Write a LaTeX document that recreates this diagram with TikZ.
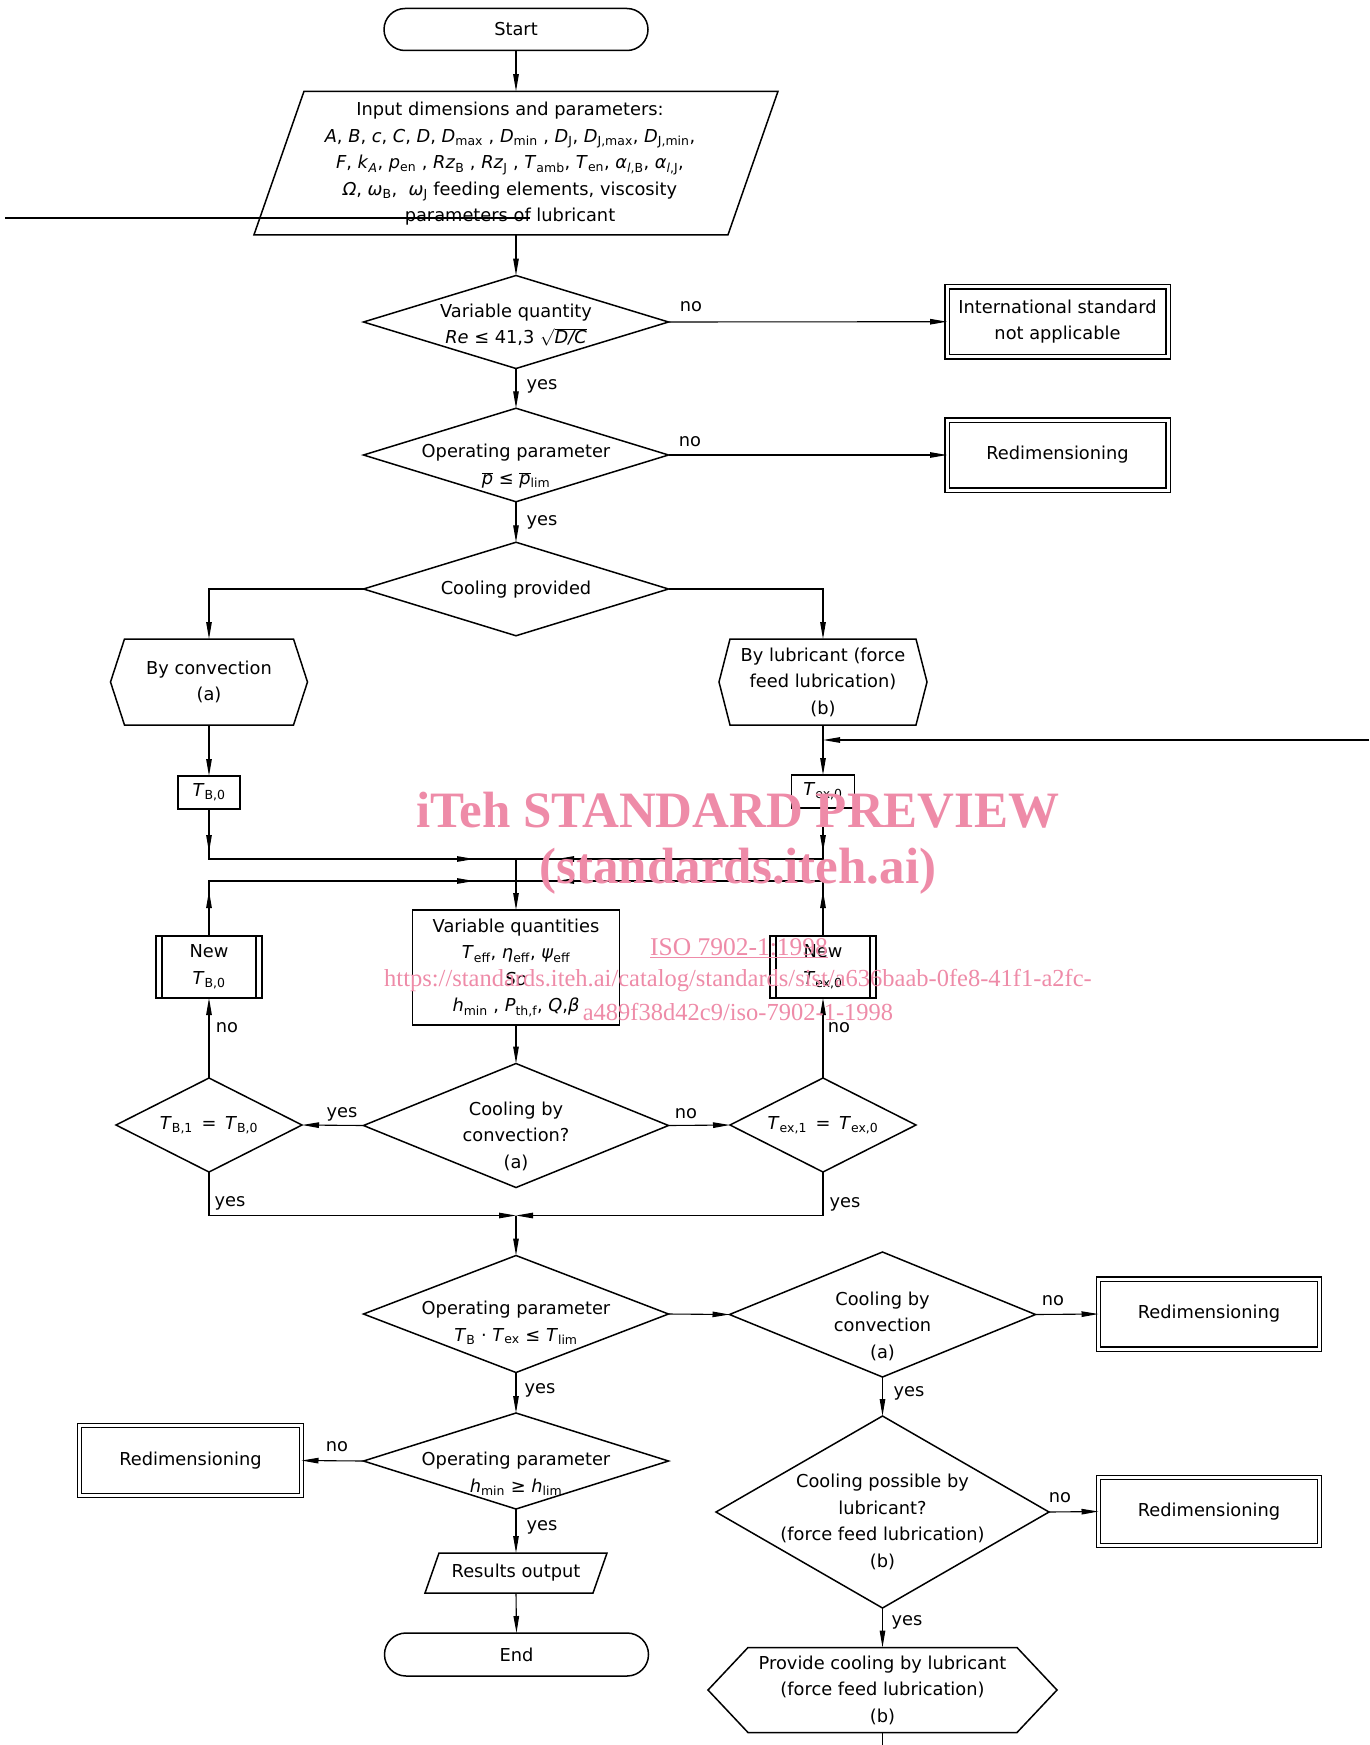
\documentclass[tikz,border=0pt]{standalone}
\usepackage{fontspec}
\setmainfont{DejaVu Sans}
\newfontfamily\wmfont{Liberation Serif}
\usetikzlibrary{arrows.meta,shapes.misc,shapes.geometric,decorations.markings,calc}
\definecolor{wmpink}{RGB}{238,139,168}
\newcommand\vv[1]{\textit{#1}}
\newcommand\sbx[1]{\textsubscript{#1}}
\newcommand\pbar{$\overline{\mbox{\vv{p}}}$}
\newcommand\hexout[2]{\draw[line width=1.5pt] (#1.west) -- ([xshift=#2]#1.north west) -- ([xshift=-#2]#1.north east) -- (#1.east) -- ([xshift=-#2]#1.south east) -- ([xshift=#2]#1.south west) -- cycle;}
\newcommand\parout[2]{\draw[line width=1.5pt] (#1.south west) -- ([xshift=#2]#1.north west) -- (#1.north east) -- ([xshift=-#2]#1.south east) -- cycle;}
\newcommand\predef[1]{\draw[line width=1.5pt] ([xshift=6]#1.north west) -- ([xshift=6]#1.south west) ([xshift=-6]#1.north east) -- ([xshift=-6]#1.south east);}
\tikzset{
  base/.style={font=\fontsize{17.8}{26.5}\selectfont, inner sep=0pt, outer sep=0pt, align=center},
  plain/.style={base, rectangle, draw=none},
  shp/.style={base, draw, line width=1.5pt},
  terminal/.style={shp, rounded rectangle, minimum width=264pt, minimum height=42pt},
  dec/.style={shp, diamond},
  dbl/.style={base, draw, line width=1.4pt, double, double distance=3pt, minimum width=221pt, minimum height=70pt},
  ln/.style={line width=1.1pt},
  arr/.style={line width=1.1pt, -{Triangle[length=17pt,width=5.5pt]}},
  lbl/.style={base},
  mk2/.style 2 args={postaction={decorate}, decoration={markings,
     mark=at position #1 with {\arrow{Triangle[length=17pt,width=5.5pt]}},
     mark=at position #2 with {\arrow{Triangle[length=17pt,width=5.5pt]}}}},
  wm/.style={text=wmpink, inner sep=0pt, outer sep=0pt}
}
\begin{document}
\begin{tikzpicture}[x=1pt,y=-1pt]
\useasboundingbox (0,0) rectangle (1369,1745);
% ---------- nodes ----------
\node[terminal] (start) at (516,29.5) {Start};
\node[plain, minimum width=524pt, minimum height=143.5pt] (input) at (516,163) {};
\parout{input}{50}
\node[base] (inputT) at (510,164) {Input dimensions and parameters:\\
\vv{A}, \vv{B}, \vv{c}, \vv{C}, \vv{D}, \vv{D}\sbx{max} , \vv{D}\sbx{min} , \vv{D}\sbx{J}, \vv{D}\sbx{J,max}, \vv{D}\sbx{J,min},\\
\vv{F}, \vv{k}\sbx{\vv{A}}, \vv{p}\sbx{en} , \vv{Rz}\sbx{B} , \vv{Rz}\sbx{J} , \vv{T}\sbx{amb}, \vv{T}\sbx{en}, \vv{α}\sbx{\vv{l},B}, \vv{α}\sbx{\vv{l},J},\\
\vv{Ω}, \vv{ω}\sbx{B}, \ \vv{ω}\sbx{J} feeding elements, viscosity\\
parameters of lubricant};
\coordinate (L1) at (5,218);
\coordinate (L2) at (530,218);

\node[dec, minimum width=305pt, minimum height=93pt] (d1) at (516,322) {};
\node[base] (d1t) at (516,325) {Variable quantity\\ \vv{Re} ≤ 41,3 $\sqrt{\mbox{\vv{D/C}}}$};
\node[dbl] (intl) at (1057.5,321.7) {International standard\\not applicable};

\node[dec, minimum width=305pt, minimum height=93.5pt] (d2) at (516,455) {};
\node[base] (d2t) at (516,466) {Operating parameter\\ \pbar\ ≤ \pbar\sbx{lim}};
\node[dbl] (redA) at (1057.5,455) {Redimensioning};

\node[dec, minimum width=305pt, minimum height=93.5pt] (d3) at (516,589) {};
\node[base] (d3t) at (516,590) {Cooling provided};

\node[plain, minimum width=197pt, minimum height=86pt] (conv) at (209,682) {By convection\\(a)};
\hexout{conv}{14}
\node[plain, minimum width=208pt, minimum height=86pt] (lub) at (823,682) {By lubricant (force\\feed lubrication)\\(b)};
\hexout{lub}{11}

\node[shp, minimum width=62pt, minimum height=33pt] (TB0) at (209,792.5) {\vv{T}\sbx{B,0}};
\node[shp, minimum width=63pt, minimum height=33pt] (Tex0) at (823,791.5) {\vv{T}\sbx{ex,0}};
\coordinate (R1) at (1369,740);
\coordinate (jA) at (516,859);
\coordinate (jB) at (516,881);

\node[shp, minimum width=207pt, minimum height=115pt] (var) at (516,967.5) {Variable quantities\\ \vv{T}\sbx{eff}, \vv{η}\sbx{eff}, \vv{ψ}\sbx{eff}\\ \vv{So}\\ \vv{h}\sbx{min} , \vv{P}\sbx{th,f}, \vv{Q},\vv{β}};
\node[shp, minimum width=106pt, minimum height=62pt] (NTB) at (209,967) {New\\ \vv{T}\sbx{B,0}};
\predef{NTB}
\node[shp, minimum width=106pt, minimum height=62pt] (NTex) at (823,967) {New\\ \vv{T}\sbx{ex,0}};
\predef{NTex}

\node[dec, minimum width=305pt, minimum height=124pt] (d4) at (516,1125.5) {};
\node[base] (d4t) at (516,1136) {Cooling by\\convection?\\(a)};
\node[dec, minimum width=186pt, minimum height=94pt] (dTB) at (209,1125) {};
\node[base] (dTBt) at (209,1125) {\vv{T}\sbx{B,1} \,=\, \vv{T}\sbx{B,0}};
\node[dec, minimum width=186pt, minimum height=94pt] (dTex) at (823,1125) {};
\node[base] (dText) at (823,1125) {\vv{T}\sbx{ex,1} \,=\, \vv{T}\sbx{ex,0}};
\coordinate (jC) at (516,1215.5);

\node[dec, minimum width=305pt, minimum height=117pt] (d5) at (516,1314) {};
\node[base] (d5t) at (516,1323) {Operating parameter\\ \vv{T}\sbx{B} · \vv{T}\sbx{ex} ≤ \vv{T}\sbx{lim}};
\node[dec, minimum width=306pt, minimum height=125pt] (d6) at (882.5,1314.5) {};
\node[base] (d6t) at (882.5,1326) {Cooling by\\convection\\(a)};
\node[dbl] (redB) at (1209,1314) {Redimensioning};

\node[dec, minimum width=305pt, minimum height=96pt] (d7) at (516,1461) {};
\node[base] (d7t) at (516,1474) {Operating parameter\\ \vv{h}\sbx{min} ≥ \vv{h}\sbx{lim}};
\node[dbl, minimum width=222pt] (redC) at (190.5,1460.5) {Redimensioning};

\node[plain, minimum width=182pt, minimum height=40pt] (res) at (516,1573) {Results output};
\parout{res}{14}
\node[terminal, minimum height=43pt] (end) at (516.5,1654.5) {End};

\node[dec, minimum width=333pt, minimum height=192pt] (d8) at (882.5,1512) {};
\node[base] (d8t) at (882.5,1522) {Cooling possible by\\lubricant?\\(force feed lubrication)\\(b)};
\node[dbl, minimum height=68pt] (redD) at (1209,1511.5) {Redimensioning};

\node[plain, minimum width=349pt, minimum height=85pt] (prov) at (882.5,1690) {Provide cooling by lubricant\\(force feed lubrication)\\(b)};
\hexout{prov}{40}
\coordinate (B1) at (882.5,1745);

% ---------- connectors ----------
\draw[arr] (start.south) -- (input.north);
\draw[line width=1.6pt] (L1) -- (L2);
\draw[arr] (input.south) -- (d1.north);
\draw[arr] (d1.east) -- (intl.west);
\draw[arr] (d1.south) -- (d2.north);
\draw[arr] (d2.east) -- (redA.west);
\draw[arr] (d2.south) -- (d3.north);
\draw[arr] (d3.west) -| (conv.north);
\draw[arr] (d3.east) -| (lub.north);
\draw[arr] (conv.south) -- (TB0.north);
\draw[arr] (lub.south) -- (Tex0.north);
\draw[arr] (R1) -- (R1 -| lub.south);
\draw[ln, mk2={43pt}{-42pt}] (TB0.south) |- (jA);
\draw[ln, mk2={44pt}{-41pt}] (Tex0.south) |- (jA);
\draw[ln, mk2={45pt}{-42pt}] (NTB.north) |- (jB);
\draw[ln, mk2={45pt}{-41pt}] (NTex.north) |- (jB);
\draw[arr] (jA) -- (var.north);
\draw[arr] (var.south) -- (d4.north);
\draw[arr] (d4.west) -- (dTB.east);
\draw[arr] (d4.east) -- (dTex.west);
\draw[arr] (dTB.north) -- (NTB.south);
\draw[arr] (dTex.north) -- (NTex.south);
\draw[arr] (dTB.south) |- (jC);
\draw[arr] (dTex.south) |- (jC);
\draw[arr] (jC) -- (d5.north);
\draw[arr] (d5.east) -- (d6.west);
\draw[arr] (d6.east) -- (redB.west);
\draw[arr] (d5.south) -- (d7.north);
\draw[arr] (d7.west) -- (redC.east);
\draw[arr] (d7.south) -- (res.north);
\draw[arr] (res.south) -- (end.north);
\draw[arr] (d6.south) -- (d8.north);
\draw[arr] (d8.east) -- (redD.west);
\draw[arr] (d8.south) -- (prov.north);
\draw[ln] (prov.south) -- (B1);

% ---------- labels ----------
\node[lbl] (l1) at (691,307) {no};
\node[lbl] (l2) at (542,386) {yes};
\node[lbl] (l3) at (690,442) {no};
\node[lbl] (l4) at (542,522) {yes};
\node[lbl] (l5) at (342,1114) {yes};
\node[lbl] (l6) at (686,1114) {no};
\node[lbl] (l7) at (227,1028) {no};
\node[lbl] (l8) at (839,1028) {no};
\node[lbl] (l9) at (230,1203) {yes};
\node[lbl] (l10) at (845,1204) {yes};
\node[lbl] (l11) at (1053,1301) {no};
\node[lbl] (l12) at (540,1390) {yes};
\node[lbl] (l13) at (909,1393.5) {yes};
\node[lbl] (l14) at (337,1447) {no};
\node[lbl] (l15) at (542,1527) {yes};
\node[lbl] (l16) at (1060,1498) {no};
\node[lbl] (l17) at (907,1622) {yes};

% ---------- watermark ----------
\node[wm, font=\wmfont\bfseries\fontsize{51}{51}\selectfont] (wm1) at (738,810) {iTeh STANDARD PREVIEW};
\node[wm, font=\wmfont\bfseries\fontsize{51}{51}\selectfont] (wm2) at (738,871.5) {(standards.iteh.ai)};
\node[wm, font=\wmfont\fontsize{25.5}{25.5}\selectfont] (wm3) at (739,948) {\underline{ISO 7902-1:1998}};
\node[wm, font=\wmfont\fontsize{24.5}{24.5}\selectfont] (wm4) at (738,980.6) {https://standards.iteh.ai/catalog/standards/sist/a636baab-0fe8-41f1-a2fc-};
\node[wm, font=\wmfont\fontsize{24.5}{24.5}\selectfont] (wm5) at (738,1012) {a489f38d42c9/iso-7902-1-1998};
\end{tikzpicture}
\end{document}
